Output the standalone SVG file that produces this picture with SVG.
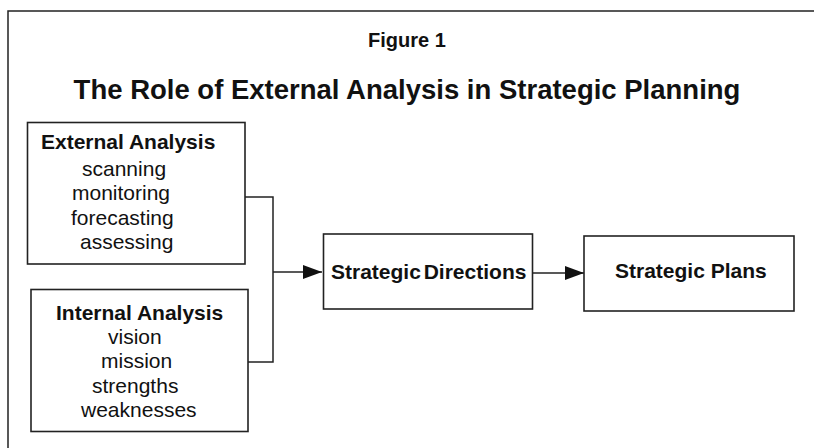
<svg xmlns="http://www.w3.org/2000/svg" width="814" height="448" viewBox="0 0 814 448">
<style>
  text { font-family: "Liberation Sans", Arial, sans-serif; fill: #111; }
  .b { font-weight: bold; }
  .box { fill: #fff; stroke: #222; stroke-width: 1.6; }
  .ln { fill: none; stroke: #222; stroke-width: 1.5; }
</style>
<defs>
  <marker id="ah" markerWidth="19" markerHeight="14" refX="19" refY="7" orient="auto" markerUnits="userSpaceOnUse">
    <path d="M0,0 L19,7 L0,14 Z" fill="#111"/>
  </marker>
</defs>
<rect width="814" height="448" fill="#fff"/>
<path class="ln" d="M8,448 V11 H814"/>
<text class="b" x="407" y="47" font-size="20" text-anchor="middle">Figure 1</text>
<text class="b" x="407" y="99" font-size="27.5" text-anchor="middle">The Role of External Analysis in Strategic Planning</text>

<g id="connectors">
  <path class="ln" d="M245,197 H273 V362 H248"/>
  <path class="ln" d="M273,272 H322" marker-end="url(#ah)"/>
  <path class="ln" d="M532,273 H584" marker-end="url(#ah)"/>
</g>

<g id="external">
  <rect class="box" x="27.5" y="122.5" width="217.5" height="141.5"/>
  <text class="b" x="41" y="149" font-size="21">External Analysis</text>
  <text x="82" y="176" font-size="21">scanning</text>
  <text x="72" y="200" font-size="21">monitoring</text>
  <text x="71" y="225" font-size="21">forecasting</text>
  <text x="80" y="249" font-size="21">assessing</text>
</g>

<g id="internal">
  <rect class="box" x="31" y="289.5" width="217" height="142"/>
  <text class="b" x="56" y="320" font-size="21">Internal Analysis</text>
  <text x="108" y="344" font-size="21">vision</text>
  <text x="101" y="368" font-size="21">mission</text>
  <text x="92" y="393" font-size="21">strengths</text>
  <text x="81" y="417" font-size="21">weaknesses</text>
</g>

<g id="directions">
  <rect class="box" x="323.5" y="234" width="209" height="75"/>
  <text class="b" x="331" y="279" font-size="21" word-spacing="-3">Strategic Directions</text>
</g>

<g id="plans">
  <rect class="box" x="584" y="236" width="210" height="75"/>
  <text class="b" x="615" y="278" font-size="21">Strategic Plans</text>
</g>
</svg>
